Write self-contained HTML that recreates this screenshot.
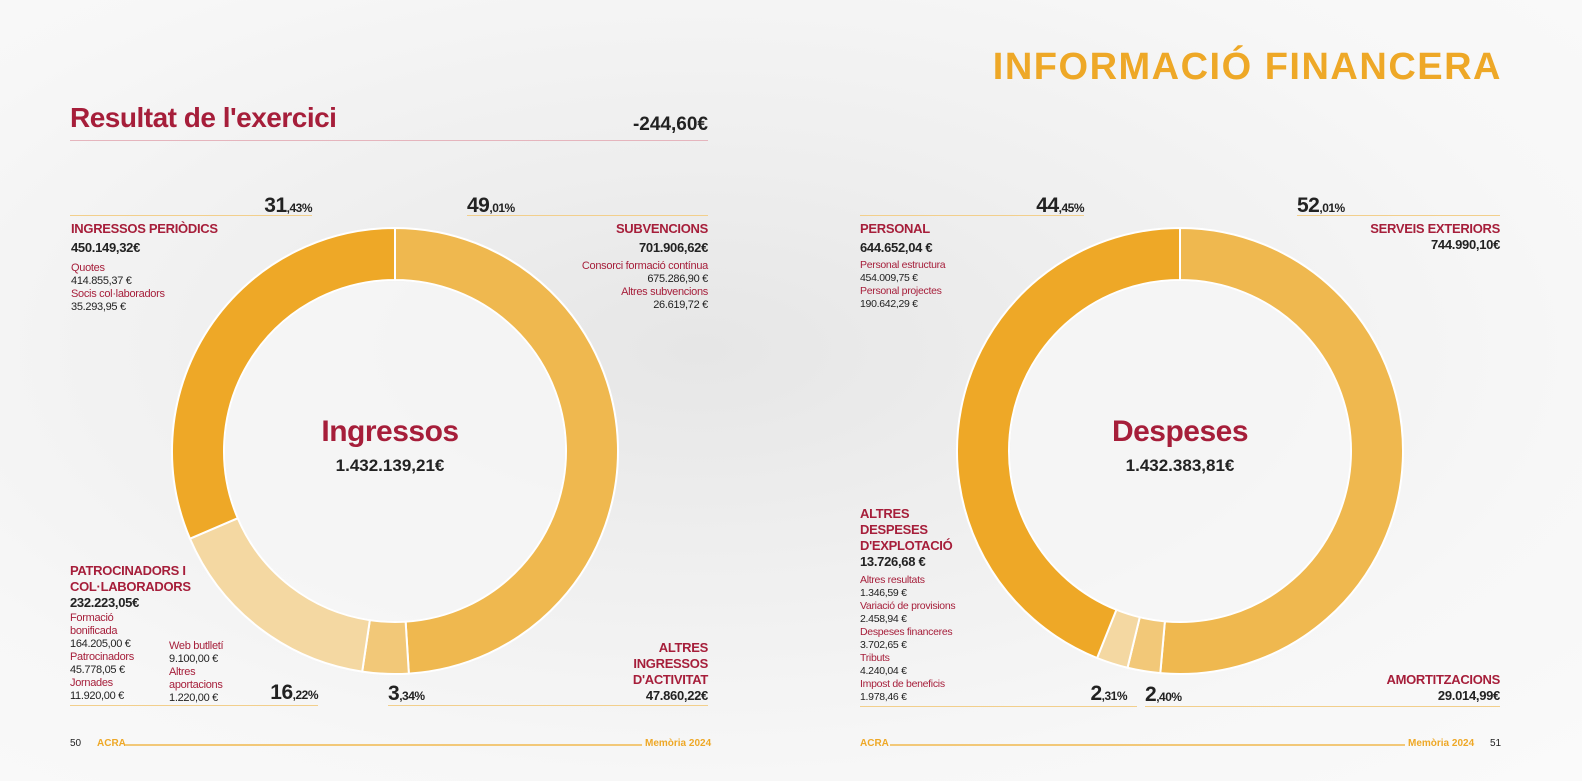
<!DOCTYPE html>
<html><head><meta charset="utf-8">
<style>
body{margin:0;width:1582px;height:781px;overflow:hidden;font-family:"Liberation Sans",sans-serif;}
#bg{position:absolute;left:0;top:0;width:1582px;height:781px;background:radial-gradient(ellipse at 700px 350px,#e6e6e6 0%,#efefef 35%,#f7f7f7 70%,#fafafa 100%);}
.t{position:absolute;white-space:nowrap;}
.red{color:#a61e3a}
.dk{color:#222}
.hl{position:absolute;height:1px;background:#f2cf8c}
.pc{font-size:21px;font-weight:bold;color:#222;letter-spacing:-0.5px}
.pc small{font-size:12px}
.h{font-size:13px;font-weight:bold;color:#a61e3a;line-height:16px;letter-spacing:-0.3px}
.v{font-size:13px;font-weight:bold;color:#222;letter-spacing:-0.3px}
.s{font-size:11px;line-height:13px;letter-spacing:-0.3px}
.s2{font-size:10.5px;line-height:13px;letter-spacing:-0.3px}
</style></head><body>
<div id="bg"></div>
<svg id="chart" width="1582" height="781" style="position:absolute;left:0;top:0"></svg>

<div class="t" style="right:80px;top:46px;font-size:38px;font-weight:bold;color:#eea827;letter-spacing:1.5px">INFORMACIÓ FINANCERA</div>
<div class="t red" style="left:70px;top:102px;font-size:28px;font-weight:bold;letter-spacing:-0.5px">Resultat de l'exercici</div>
<div class="t dk" style="right:874px;top:114px;font-size:19px;font-weight:bold">-244,60€</div>
<div class="hl" style="left:70px;top:140px;width:638px;background:#e5b5bd"></div>

<div class="t pc" style="right:1270px;top:194px">31<small>,43%</small></div>
<div class="hl" style="left:70px;top:215px;width:242px"></div>
<div class="t pc" style="left:467px;top:194px">49<small>,01%</small></div>
<div class="hl" style="left:467px;top:215px;width:241px"></div>

<div class="t" style="left:71px;top:221px">
<div class="h">INGRESSOS PERIÒDICS</div><div class="v" style="margin-top:3px">450.149,32€</div>
<div class="s red" style="margin-top:7px">Quotes</div><div class="s dk">414.855,37 €</div>
<div class="s red">Socis col·laboradors</div><div class="s dk">35.293,95 €</div></div>

<div class="t" style="right:874px;top:221px;text-align:right">
<div class="h">SUBVENCIONS</div><div class="v" style="margin-top:3px">701.906,62€</div>
<div class="s red" style="margin-top:5px">Consorci formació contínua</div><div class="s dk">675.286,90 €</div>
<div class="s red">Altres subvencions</div><div class="s dk">26.619,72 €</div></div>

<div class="t" style="left:70px;top:563px">
<div class="h">PATROCINADORS I<br>COL·LABORADORS</div><div class="v">232.223,05€</div>
<div class="s red" style="margin-top:2px">Formació<br>bonificada</div><div class="s dk">164.205,00 €</div>
<div class="s red">Patrocinadors</div><div class="s dk">45.778,05 €</div>
<div class="s red">Jornades</div><div class="s dk">11.920,00 €</div></div>
<div class="t" style="left:169px;top:640px">
<div class="s red">Web butlletí</div><div class="s dk">9.100,00 €</div>
<div class="s red">Altres<br>aportacions</div><div class="s dk">1.220,00 €</div></div>
<div class="t pc" style="right:1264px;top:681px">16<small>,22%</small></div>
<div class="hl" style="left:70px;top:705px;width:248px"></div>
<div class="t pc" style="left:388px;top:682px">3<small>,34%</small></div>
<div class="hl" style="left:388px;top:705px;width:320px"></div>
<div class="t" style="right:874px;top:640px;text-align:right">
<div class="h">ALTRES<br>INGRESSOS<br>D'ACTIVITAT</div><div class="v">47.860,22€</div></div>

<div class="t red" style="left:290px;width:200px;text-align:center;top:415px;font-size:30px;font-weight:bold;letter-spacing:-0.5px">Ingressos</div>
<div class="t dk" style="left:290px;width:200px;text-align:center;top:456px;font-size:17px;font-weight:bold">1.432.139,21€</div>

<div class="t pc" style="right:498px;top:194px">44<small>,45%</small></div>
<div class="hl" style="left:860px;top:215px;width:224px"></div>
<div class="t pc" style="left:1297px;top:194px">52<small>,01%</small></div>
<div class="hl" style="left:1297px;top:215px;width:203px"></div>

<div class="t" style="left:860px;top:221px">
<div class="h">PERSONAL</div><div class="v" style="margin-top:3px">644.652,04 €</div>
<div class="s2 red" style="margin-top:4px">Personal estructura</div><div class="s2 dk">454.009,75 €</div>
<div class="s2 red">Personal projectes</div><div class="s2 dk">190.642,29 €</div></div>
<div class="t" style="right:82px;top:221px;text-align:right">
<div class="h">SERVEIS EXTERIORS</div><div class="v">744.990,10€</div></div>

<div class="t" style="left:860px;top:506px">
<div class="h">ALTRES<br>DESPESES<br>D'EXPLOTACIÓ</div><div class="v">13.726,68 €</div>
<div class="s2 red" style="margin-top:5px">Altres resultats</div><div class="s2 dk">1.346,59 €</div>
<div class="s2 red">Variació de provisions</div><div class="s2 dk">2.458,94 €</div>
<div class="s2 red">Despeses financeres</div><div class="s2 dk">3.702,65 €</div>
<div class="s2 red">Tributs</div><div class="s2 dk">4.240,04 €</div>
<div class="s2 red">Impost de beneficis</div><div class="s2 dk">1.978,46 €</div></div>
<div class="t pc" style="right:455px;top:682px">2<small>,31%</small></div>
<div class="hl" style="left:860px;top:706px;width:277px"></div>
<div class="t pc" style="left:1145px;top:683px">2<small>,40%</small></div>
<div class="hl" style="left:1145px;top:706px;width:355px"></div>
<div class="t" style="right:82px;top:672px;text-align:right">
<div class="h">AMORTITZACIONS</div><div class="v">29.014,99€</div></div>

<div class="t red" style="left:1080px;width:200px;text-align:center;top:415px;font-size:30px;font-weight:bold;letter-spacing:-0.5px">Despeses</div>
<div class="t dk" style="left:1080px;width:200px;text-align:center;top:456px;font-size:17px;font-weight:bold">1.432.383,81€</div>

<div class="t dk" style="left:70px;top:738px;font-size:10px">50</div>
<div class="t" style="left:97px;top:738px;font-size:10px;font-weight:bold;color:#eea827">ACRA</div>
<div class="hl" style="left:125px;top:744px;width:517px;height:2px;background:#f2c878"></div>
<div class="t" style="left:645px;top:738px;font-size:10px;font-weight:bold;color:#eea827">Memòria 2024</div>
<div class="t" style="left:860px;top:738px;font-size:10px;font-weight:bold;color:#eea827">ACRA</div>
<div class="hl" style="left:890px;top:744px;width:515px;height:2px;background:#f2c878"></div>
<div class="t" style="left:1408px;top:738px;font-size:10px;font-weight:bold;color:#eea827">Memòria 2024</div>
<div class="t dk" style="left:1490px;top:738px;font-size:10px">51</div>

<script>
const ingCategories = ["Subvencions","Altres ingressos d'activitat","Patrocinadors i col·laboradors","Ingressos periòdics"];
const ingValues = [49.01, 3.34, 16.22, 31.43];
const despCategories = ["Serveis exteriors","Amortitzacions","Altres despeses d'explotació","Personal"];
const despValues = [52.01, 2.40, 2.31, 44.45];
const colors = ["#efb84f","#f2c878","#f4d8a2","#eea827"];

const svg = document.getElementById('chart');
const NS = "http://www.w3.org/2000/svg";
function angle(frac){ return frac*2*Math.PI; }
function pt(cx,cy,r,a){ return [cx + r*Math.sin(a), cy - r*Math.cos(a)]; }
function donut(cx,cy,R,r,cats,vals,name){
  const total = vals.reduce((a,b)=>a+b,0);
  let acc = 0;
  vals.forEach((v,i)=>{
    const a0 = angle(acc/total), a1 = angle((acc+v)/total); acc += v;
    const large = (a1-a0) > Math.PI ? 1 : 0;
    const [x0,y0]=pt(cx,cy,R,a0),[x1,y1]=pt(cx,cy,R,a1),[x2,y2]=pt(cx,cy,r,a1),[x3,y3]=pt(cx,cy,r,a0);
    const p = document.createElementNS(NS,'path');
    p.setAttribute('d',`M${x0},${y0}A${R},${R} 0 ${large} 1 ${x1},${y1}L${x2},${y2}A${r},${r} 0 ${large} 0 ${x3},${y3}Z`);
    p.setAttribute('fill',colors[i]);
    p.setAttribute('stroke','#fff');
    p.setAttribute('stroke-width','2');
    
    
    svg.appendChild(p);
  });
  const c = document.createElementNS(NS,'circle');
  c.setAttribute('cx',cx);c.setAttribute('cy',cy);c.setAttribute('r',r-1);c.setAttribute('fill','#f6f6f6');c.setAttribute('opacity','0.85');
  
  
  svg.appendChild(c);
}
donut(395,451,223,171,ingCategories,ingValues,'ingressos');
donut(1180,451,223,171,despCategories,despValues,'despeses');
</script>
</body></html>
